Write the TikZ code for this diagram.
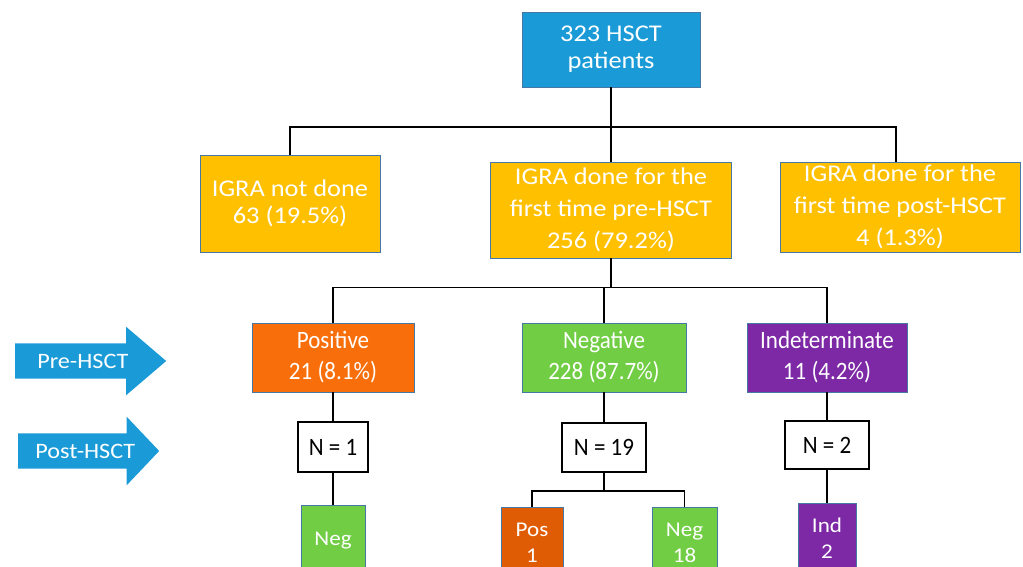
\documentclass[tikz,border=0pt]{standalone}
\usepackage{fontspec}
\setmainfont{Carlito}
\newfontfamily\widefont[FakeStretch=1.1]{Carlito}
\newfontfamily\slimfont[FakeStretch=0.92]{Carlito}
\usetikzlibrary{shapes.arrows}
\definecolor{hsctblue}{RGB}{26,155,215}
\definecolor{igragold}{RGB}{255,192,0}
\definecolor{posorange}{RGB}{247,110,10}
\definecolor{posdark}{RGB}{224,92,4}
\definecolor{neggreen}{RGB}{112,205,68}
\definecolor{indpurple}{RGB}{125,40,165}
\definecolor{boxedge}{RGB}{70,120,165}

\begin{document}
\begin{tikzpicture}[x=1pt,y=-1pt,
  box/.style={rectangle, draw=boxedge, line width=0.8pt, text=white, align=center, inner sep=0pt},
  toprow/.style={box, font=\widefont\fontsize{24}{27}\selectfont},
  midrow/.style={box, font=\slimfont\fontsize{25}{31}\selectfont},
  botrow/.style={box, anchor=north, minimum height=70, font=\widefont\fontsize{21}{26}\selectfont},
  countbox/.style={rectangle, draw=black, line width=1.6pt, fill=white, inner sep=0pt, font=\slimfont\fontsize{25}{31}\selectfont},
  phase/.style={single arrow, fill=hsctblue, text=white, inner xsep=0pt, inner ysep=0pt, text height=24.5pt, text depth=10.5pt, single arrow head extend=16.5, anchor=tail, font=\widefont\fontsize{22}{26}\selectfont},
  link/.style={draw=black, line width=1.8pt}]
\clip (0,0) rectangle (1023,567);
% first level
\node[toprow, fill=hsctblue, minimum width=178, minimum height=75] (patients) at (611,49.5) {323 HSCT\\patients};
\node[toprow, fill=igragold, minimum width=180, minimum height=97] (notdone) at (290,203.5) {IGRA not done\\63 (19.5\%)};
\node[toprow, fill=igragold, minimum width=241, minimum height=96, font=\widefont\fontsize{24}{32}\selectfont] (prefirst) at (611,210) {IGRA done for the\\first time pre-HSCT\\256 (79.2\%)};
\node[toprow, fill=igragold, minimum width=240, minimum height=90, font=\widefont\fontsize{24}{32}\selectfont] (postfirst) at (900,207) {IGRA done for the\\first time post-HSCT\\4 (1.3\%)};
% pre-HSCT results
\node[midrow, fill=posorange, minimum width=162, minimum height=69] (positive) at (333,357.5) {Positive\\21 (8.1\%)};
\node[midrow, fill=neggreen, minimum width=164, minimum height=69] (negative) at (604,357.5) {Negative\\228 (87.7\%)};
\node[midrow, fill=indpurple, minimum width=160, minimum height=69] (indet) at (827,357.5) {Indeterminate\\11 (4.2\%)};
% post-HSCT retests
\node[countbox, minimum width=70, minimum height=50] (npos) at (333,447) {N = 1};
\node[countbox, minimum width=84, minimum height=49] (nneg) at (604,447.5) {N = 19};
\node[countbox, minimum width=84, minimum height=48] (nind) at (827,445) {N = 2};
\node[botrow, fill=neggreen, minimum width=64] (posneg) at (333,505) {Neg};
\node[botrow, fill=posdark, minimum width=62] (negpos) at (532,507) {Pos\\1};
\node[botrow, fill=neggreen, minimum width=65] (negneg) at (684.5,507) {Neg\\18};
\node[botrow, fill=indpurple, minimum width=58] (indind) at (827,503) {Ind\\2};
% phase arrows
\node[phase, minimum height=151, single arrow tip angle=81] (prephase) at (15,361) {\hspace*{5pt}Pre-HSCT};
\node[phase, minimum height=141, single arrow tip angle=93] (postphase) at (18,451) {\hspace*{10pt}Post-HSCT};
% connectors
\draw[link] (patients.south) -- ++(0,40) coordinate (busone);
\draw[link] (notdone.north) |- (busone) -| ([xshift=-4]postfirst.north);
\draw[link] (busone) -- (prefirst.north);
\draw[link] (prefirst.south) -- ++(0,29) coordinate (bustwo);
\draw[link] (positive.north) |- (bustwo) -| (indet.north);
\draw[link] (negative.north) |- (bustwo);
\draw[link] (positive) -- (npos);
\draw[link] (npos) -- (posneg);
\draw[link] (negative) -- (nneg);
\draw[link] (nneg.south) -- ++(0,18) coordinate (busthree);
\draw[link] (negpos.north) |- (busthree) -| (negneg.north);
\draw[link] (indet) -- (nind);
\draw[link] (nind) -- (indind);
\end{tikzpicture}
\end{document}
